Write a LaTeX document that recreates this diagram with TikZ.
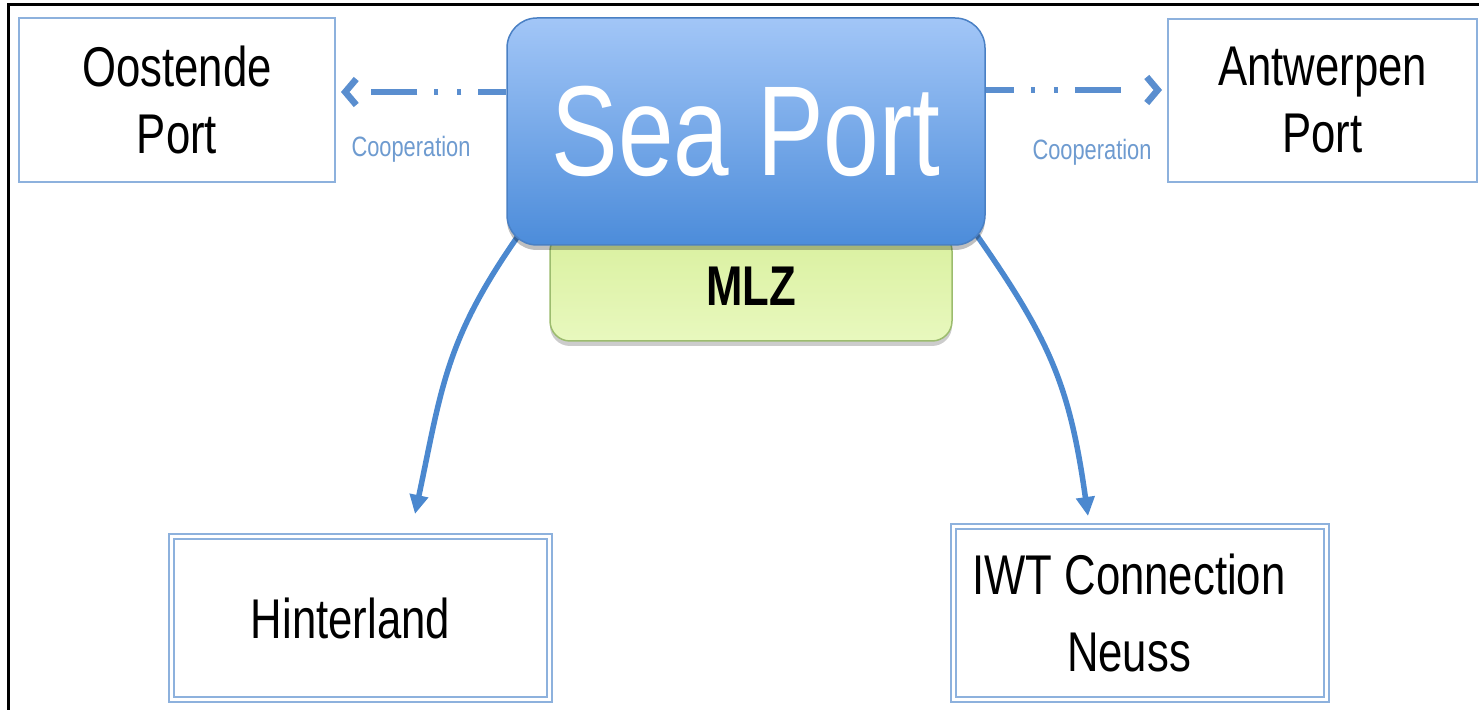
\documentclass[tikz,border=0pt]{standalone}
\usepackage{fontspec}
\setmainfont{Liberation Sans}[FakeStretch=0.78]
\usetikzlibrary{arrows.meta,backgrounds,shadows}
\definecolor{boxblue}{HTML}{8DB1DD}
\definecolor{seatop}{HTML}{A2C6F7}
\definecolor{seabot}{HTML}{4C8CDA}
\definecolor{seaedge}{HTML}{4A80C4}
\definecolor{mlztop}{HTML}{D9F09E}
\definecolor{mlzbot}{HTML}{E8F8BE}
\definecolor{mlzedge}{HTML}{9CBC6E}
\definecolor{arrowblue}{HTML}{5A8ECF}
\definecolor{curveblue}{HTML}{4B88CF}
\definecolor{cooptext}{HTML}{6E9BD0}
\tikzset{
  portbox/.style={draw=boxblue, line width=2pt, fill=white, inner sep=0pt, align=center,
    font=\fontsize{56}{67}\selectfont},
  dblbox/.style={draw=boxblue, line width=2pt, double=white, double distance=3.5pt,
    fill=white, inner sep=0pt, align=center, font=\fontsize{56}{67}\selectfont},
  seabox/.style={draw=seaedge, line width=1.5pt, rounded corners=30pt, top color=seatop,
    bottom color=seabot, text=white, inner sep=0pt,
    drop shadow={shadow xshift=0pt, shadow yshift=-5pt, opacity=0.25, fill=black},
    font=\fontsize{128}{130}\selectfont},
  mlzbox/.style={draw=mlzedge, line width=1.5pt, rounded corners=20pt, top color=mlztop,
    bottom color=mlzbot, inner sep=0pt,
    drop shadow={shadow xshift=0pt, shadow yshift=-5pt, opacity=0.2, fill=black},
    font=\fontsize{56}{60}\selectfont\bfseries},
  cooplabel/.style={text=cooptext, inner sep=0pt, font=\fontsize{28}{30}\selectfont},
  coop/.style={draw=arrowblue, line width=6.5pt,
    dash pattern={on 28pt off 17pt on 4pt off 19pt on 4pt off 17pt on 46pt off 60pt},
    -{Straight Barb[length=11pt, width=26pt]}},
  curvearrow/.style={draw=curveblue, line width=5.5pt, -{Triangle[length=19pt, width=18pt]}},
  frameline/.style={draw=black, line width=3pt}
}
\begin{document}
\begin{tikzpicture}[x=1pt, y=1pt]
\useasboundingbox (0,0) rectangle (1479,710);

% outer frame
\draw[frameline] (1479,705) -- (8,705) -- (8,0);

% nodes
\node[portbox, minimum width=316pt, minimum height=164pt] (oost) at (177,610) {Oostende\\Port};
\node[portbox, minimum width=309pt, minimum height=163pt] (ant) at (1322.5,609.5) {Antwerpen\\Port};
\node[mlzbox, minimum width=402pt, minimum height=110pt] (mlz) at (751,424) {MLZ};
\node[seabox, minimum width=478pt, minimum height=227pt] (sea) at (746,578.5) {Sea Port};
\node[dblbox, minimum width=378pt, minimum height=163pt] (hint) at (360.5,92) {Hinterland\hspace*{20pt}};
\node[dblbox, minimum width=373pt, minimum height=173pt] (iwt) at (1140,97) {IWT Connection\hspace*{22pt}\\[10pt]Neuss\hspace*{22pt}};

\node[cooplabel] (cl) at (411,561) {Cooperation};
\node[cooplabel] (cr) at (1092,558) {Cooperation};

% connectors
\begin{scope}[on background layer]
\fill[white] (0,0) rectangle (1479,710);
\draw[coop] ([yshift=39.5pt]sea.west) -- ([shift={(5,8)}]oost.east);
\draw[coop] ([yshift=41.5pt]sea.east) -- ([shift={(-5,10.5)}]ant.west);
\draw[curvearrow] ([shift={(12,10)}]sea.south west) to[out=235, in=78, looseness=1.1] ([shift={(54.5,21.5)}]hint.north);
\draw[curvearrow] ([shift={(-10,12)}]sea.south east) to[out=305, in=98, looseness=1.1] ([shift={(-52,9.5)}]iwt.north);
\end{scope}
\end{tikzpicture}
\end{document}
